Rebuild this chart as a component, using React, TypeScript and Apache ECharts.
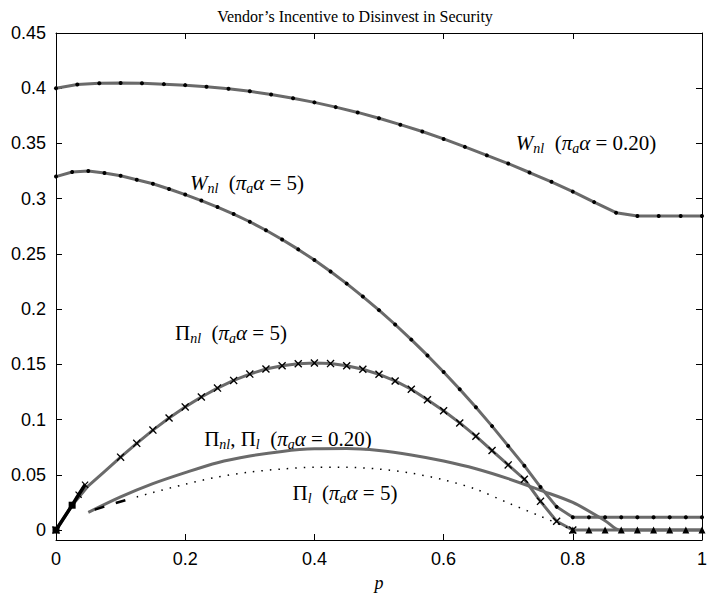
import { useEffect, useRef } from "react";
import * as echarts from "echarts";

// p grids
const P30 = [0, 0.033, 0.067, 0.1, 0.133, 0.167, 0.2, 0.233, 0.267, 0.3, 0.333, 0.367, 0.4, 0.433, 0.467, 0.5, 0.533, 0.567, 0.6, 0.633, 0.667, 0.7, 0.733, 0.767, 0.8, 0.833, 0.867, 0.9, 0.933, 0.967, 1];
const P40 = [0, 0.025, 0.05, 0.075, 0.1, 0.125, 0.15, 0.175, 0.2, 0.225, 0.25, 0.275, 0.3, 0.325, 0.35, 0.375, 0.4, 0.425, 0.45, 0.475, 0.5, 0.525, 0.55, 0.575, 0.6, 0.625, 0.65, 0.675, 0.7, 0.725, 0.75, 0.775, 0.8, 0.825, 0.85, 0.875, 0.9, 0.925, 0.95, 0.975, 1];

// W_nl (pi_a alpha = 0.20)
const W020_V = [0.4, 0.4033, 0.4045, 0.4047, 0.4045, 0.4037, 0.4028, 0.4014, 0.3995, 0.3972, 0.3943, 0.391, 0.3872, 0.3829, 0.3781, 0.3728, 0.367, 0.3608, 0.3541, 0.3469, 0.3392, 0.3318, 0.3237, 0.3153, 0.3064, 0.2969, 0.2873, 0.2843, 0.2843, 0.2843, 0.2843];
// W_nl (pi_a alpha = 5)
const W5_V = [0.32, 0.3242, 0.3251, 0.3233, 0.3207, 0.3171, 0.3135, 0.3088, 0.3037, 0.2983, 0.2924, 0.2861, 0.2791, 0.2714, 0.2631, 0.2541, 0.2444, 0.2341, 0.2231, 0.2114, 0.1991, 0.1861, 0.1724, 0.1581, 0.1431, 0.1274, 0.1111, 0.0941, 0.0762, 0.0583, 0.0389, 0.021, 0.0115, 0.0115, 0.0115, 0.0115, 0.0115, 0.0115, 0.0115, 0.0115, 0.0115];
// Pi_nl (pi_a alpha = 5), p from 0 to 0.8
const PINL5_V = [0, 0.0225, 0.04, 0.053, 0.066, 0.0785, 0.0905, 0.1015, 0.1115, 0.1205, 0.1285, 0.1355, 0.1412, 0.1458, 0.1488, 0.1506, 0.1513, 0.1507, 0.1488, 0.1456, 0.141, 0.135, 0.1275, 0.118, 0.108, 0.097, 0.085, 0.072, 0.059, 0.046, 0.026, 0.008, 0];
// Pi_nl, Pi_l (pi_a alpha = 0.20)
const PI020_P = [0.05, 0.1, 0.15, 0.2, 0.25, 0.3, 0.35, 0.4, 0.45, 0.5, 0.55, 0.6, 0.65, 0.7, 0.75, 0.8, 0.85, 0.873, 1];
const PI020_V = [0.016, 0.03, 0.042, 0.052, 0.061, 0.067, 0.0712, 0.0735, 0.0738, 0.072, 0.068, 0.0625, 0.0555, 0.0465, 0.036, 0.025, 0.0085, 0, 0];
// Pi_l (pi_a alpha = 5) dotted part
const PIL5_P = [0.125, 0.15, 0.2, 0.25, 0.3, 0.35, 0.4, 0.45, 0.5, 0.55, 0.6, 0.65, 0.7, 0.75, 0.8];
const PIL5_V = [0.03, 0.034, 0.0415, 0.048, 0.0525, 0.0553, 0.0568, 0.0568, 0.0552, 0.0515, 0.0455, 0.037, 0.0245, 0.0125, 0];
// dashed start segment
const DASH_P = [0.06, 0.09, 0.125];
const DASH_V = [0.0185, 0.024, 0.03];
// black thick segment near origin
const BLK_P = [0, 0.025, 0.035, 0.045];
const BLK_V = [0, 0.0225, 0.032, 0.041];
const BLK_SYM = ["rect", "rect", "x", "x"];
// flat zero part with triangles
const TRI_P = [0.8, 0.825, 0.85, 0.875, 0.9, 0.925, 0.95, 0.975, 1];
const TRI_V = [0, 0, 0, 0, 0, 0, 0, 0, 0];

const X_TICKS = [0, 0.2, 0.4, 0.6, 0.8, 1];
const Y_TICKS = [0, 0.05, 0.1, 0.15, 0.2, 0.25, 0.3, 0.35, 0.4, 0.45];

const XPATH = "path://M0,1.2 L1.2,0 L5,3.8 L8.8,0 L10,1.2 L6.2,5 L10,8.8 L8.8,10 L5,6.2 L1.2,10 L0,8.8 L3.8,5 Z";
const GRAY = "#6a6a6a";
const SERIF = "'Liberation Serif', 'DejaVu Serif', serif";
const SANS = "'Liberation Sans', Arial, Helvetica, sans-serif";

const zip = (p: number[], v: number[]) => p.map((x, i) => [x, v[i]]);

const rich = {
  n: { fontFamily: SERIF, fontSize: 21, color: "#000", lineHeight: 25 },
  i: { fontFamily: SERIF, fontSize: 21, fontStyle: "italic", color: "#000", lineHeight: 25 },
  s: { fontFamily: SERIF, fontSize: 14, fontStyle: "italic", color: "#000", lineHeight: 14, verticalAlign: "bottom" },
};

function label(text: string, x: number, y: number) {
  return {
    type: "text",
    x,
    y,
    silent: true,
    style: { text, rich, x: 0, y: 0, align: "center", verticalAlign: "middle" },
  };
}

export default function App() {
  const ref = useRef<HTMLDivElement>(null);
  useEffect(() => {
    if (!ref.current) return;
    const chart = echarts.init(ref.current, null, { renderer: "svg" });
    const axisLine = { show: true, onZero: false, lineStyle: { color: "#000", width: 1 } };
    const tick = { show: true, inside: true, length: 6, lineStyle: { color: "#000" } };
    const fmt = (v: number) => String(Number(v.toFixed(2)));
    chart.setOption({
      animation: false,
      backgroundColor: "#fff",
      title: {
        text: "Vendor\u2019s Incentive to Disinvest in Security",
        left: "center",
        top: 3,
        textStyle: { fontFamily: SERIF, fontSize: 16, fontWeight: "normal", color: "#000" },
      },
      grid: { left: 56, right: 2, top: 33, bottom: 52, containLabel: false },
      xAxis: [
        {
          type: "value", min: 0, max: 1, interval: 0.2, position: "bottom",
          axisLine, axisTick: { ...tick, customValues: X_TICKS },
          axisLabel: { customValues: X_TICKS, formatter: fmt, fontFamily: SANS, fontSize: 18, color: "#000", margin: 10 },
          splitLine: { show: false },
          name: "p", nameLocation: "middle", nameGap: 34,
          nameTextStyle: { fontFamily: SERIF, fontStyle: "italic", fontSize: 18, color: "#000" },
        },
        {
          type: "value", min: 0, max: 1, interval: 0.2, position: "top",
          axisLine, axisTick: { ...tick, customValues: X_TICKS }, axisLabel: { show: false }, splitLine: { show: false },
        },
      ],
      yAxis: [
        {
          type: "value", min: -0.009, max: 0.45, position: "left",
          axisLine, axisTick: { ...tick, customValues: Y_TICKS },
          axisLabel: { customValues: Y_TICKS, formatter: fmt, fontFamily: SANS, fontSize: 18, color: "#000", margin: 10 },
          splitLine: { show: false },
        },
        {
          type: "value", min: -0.009, max: 0.45, position: "right",
          axisLine, axisTick: { ...tick, customValues: Y_TICKS }, axisLabel: { show: false }, splitLine: { show: false },
        },
      ],
      series: [
        {
          type: "line", data: zip(P30, W020_V), lineStyle: { color: GRAY, width: 3 },
          symbol: "circle", symbolSize: 4, itemStyle: { color: "#000" }, showSymbol: true,
        },
        {
          type: "line", data: zip(P40, W5_V), lineStyle: { color: GRAY, width: 3 },
          symbol: "circle", symbolSize: 4, itemStyle: { color: "#000" },
        },
        {
          type: "line", data: zip(PI020_P, PI020_V), lineStyle: { color: GRAY, width: 3 },
          symbol: "none", smooth: 0.3,
        },
        {
          type: "line", data: zip(TRI_P, TRI_V), lineStyle: { color: GRAY, width: 3 },
          symbol: "triangle", symbolSize: 7, itemStyle: { color: "#000" },
        },
        {
          type: "line",
          data: zip(P40.slice(0, PINL5_V.length), PINL5_V).map((d, i) => ({
            value: d,
            symbol: i >= 1 && i <= 3 ? "none" : XPATH,
          })),
          lineStyle: { color: GRAY, width: 3 },
          symbol: XPATH, symbolSize: 8, itemStyle: { color: "#000" },
        },
        {
          type: "line", data: zip(PIL5_P, PIL5_V), lineStyle: { color: "#000", width: 1.5, type: [1.5, 7] },
          symbol: "none", smooth: 0.3,
        },
        {
          type: "line", data: zip(DASH_P, DASH_V), lineStyle: { color: "#000", width: 2.5, type: [10, 12] },
          symbol: "none",
        },
        {
          type: "line",
          data: zip(BLK_P, BLK_V).map((d, i) => ({ value: d, symbol: BLK_SYM[i] === "x" ? XPATH : "rect" })),
          lineStyle: { color: "#000", width: 3.5 },
          symbolSize: 7, itemStyle: { color: "#000" },
        },
      ],
      graphic: [
        label("{i|W}{s|nl}{n|  (}{i|π}{s|a}{i|α}{n| = 0.20)}", 586, 143),
        label("{i|W}{s|nl}{n|  (}{i|π}{s|a}{i|α}{n| = 5)}", 247, 183),
        label("{n|Π}{s|nl}{n|  (}{i|π}{s|a}{i|α}{n| = 5)}", 231, 333),
        label("{n|Π}{s|nl}{n|, Π}{s|l}{n|  (}{i|π}{s|a}{i|α}{n| = 0.20)}", 288, 439),
        label("{n|Π}{s|l}{n|  (}{i|π}{s|a}{i|α}{n| = 5)}", 345, 493),
      ],
    });
    return () => chart.dispose();
  }, []);
  return (
    <div
      ref={ref}
      style={{ position: "fixed", left: 0, top: 0, width: 710, height: 597, background: "#fff" }}
    />
  );
}
